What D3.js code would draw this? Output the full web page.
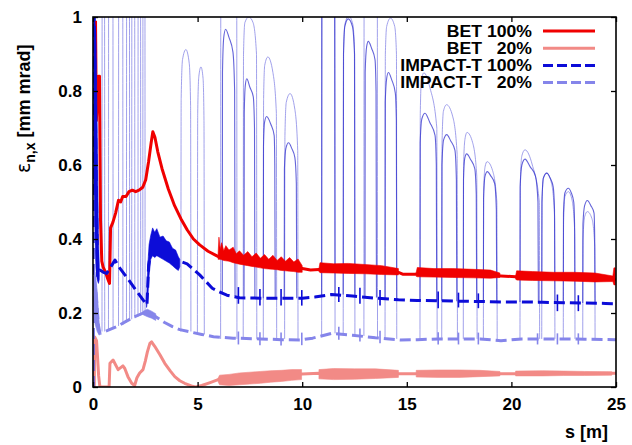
<!DOCTYPE html>
<html>
<head>
<meta charset="utf-8">
<script src="https://cdn.jsdelivr.net/npm/d3@7"></script>
<style>
  body { margin: 0; background: #fff; }
  text { font-family: "Liberation Sans", Arial, Helvetica, sans-serif; font-weight: bold; fill: #000; }
</style>
</head>
<body>
<svg id="chart" width="632" height="445"></svg>
<script>
// ---- axis ticks and legend text ----
const xTicks = [0, 5, 10, 15, 20, 25];
const yTicks = [0, 0.2, 0.4, 0.6, 0.8, 1];
const yTickLabels = ["0", "0.2", "0.4", "0.6", "0.8", "1"];
const legendNames = ["BET", "BET", "IMPACT-T", "IMPACT-T"];
const legendPcts = ["100%", "20%", "100%", "20%"];

// ---- BET, 100% of the bunch: smooth trace [s, eps] ----
const bet100Line = [
  [0.12,0.99],[0.16,0.72],[0.27,0.84],[0.31,0.84],[0.36,0.45],[0.42,0.34],[0.48,0.325],[0.60,0.31],
  [0.72,0.29],[0.79,0.28],[0.84,0.43],[0.95,0.445],[1.08,0.47],[1.22,0.505],[1.32,0.50],[1.42,0.515],
  [1.58,0.515],[1.72,0.528],[1.88,0.532],[2.04,0.528],[2.20,0.532],[2.38,0.54],[2.52,0.56],[2.66,0.61],
  [2.78,0.66],[2.86,0.69],[2.96,0.675],[3.10,0.635],[3.30,0.59],[3.60,0.535],[3.90,0.49],[4.20,0.455],
  [4.50,0.425],[4.80,0.40],[5.10,0.384],[5.50,0.367],[5.90,0.355],[6.00,0.352],[7.0,0.343],[8.0,0.335],
  [9.0,0.328],[10.0,0.32],[10.4,0.316],[11.0,0.318],[12.0,0.318],[13.0,0.315],[14.0,0.313],[14.6,0.31],
  [14.8,0.305],[15.4,0.305],[16,0.31],[17,0.308],[18,0.305],[19,0.302],[19.5,0.30],[20.2,0.298],
  [21,0.298],[22,0.296],[23,0.294],[24,0.291],[25,0.29]
];
// noisy stretches of the same trace: [s, low, high]
const bet100Noise = [
  [[5.98,0.345,0.36],[6.02,0.345,0.405],[6.08,0.345,0.372],[6.15,0.344,0.39],[6.25,0.342,0.368],[6.35,0.341,0.382],
   [6.5,0.34,0.37],[6.7,0.336,0.378],[6.85,0.334,0.36],[7.0,0.332,0.368],[7.2,0.33,0.356],[7.4,0.328,0.366],
   [7.6,0.326,0.352],[7.8,0.324,0.362],[8.0,0.322,0.348],[8.2,0.32,0.358],[8.4,0.319,0.345],[8.6,0.318,0.356],
   [8.8,0.317,0.342],[9.0,0.315,0.352],[9.2,0.314,0.34],[9.4,0.313,0.35],[9.6,0.312,0.338],[9.8,0.31,0.346],[10.0,0.31,0.328]],
  [[10.8,0.312,0.32],[10.85,0.309,0.336],[11.5,0.308,0.333],[12.2,0.307,0.334],[13.0,0.306,0.331],[13.8,0.304,0.328],[14.6,0.303,0.32]],
  [[15.45,0.299,0.31],[15.5,0.298,0.323],[16.3,0.297,0.32],[17.2,0.296,0.32],[18.2,0.295,0.318],[19.0,0.294,0.316],[19.45,0.296,0.308]],
  [[20.2,0.292,0.30],[20.25,0.289,0.314],[21.0,0.288,0.312],[22.0,0.287,0.31],[23.0,0.286,0.31],[24.0,0.284,0.308],[24.85,0.285,0.3],[24.9,0.276,0.322],[24.97,0.276,0.322]]
];

// ---- BET, 20% core ----
const bet20Line = [
  [0.06,0.0],[0.08,0.135],[0.17,0.125],[0.27,0.03],[0.33,0.0],[0.77,0.0],[0.81,0.064],[0.96,0.073],
  [1.2,0.047],[1.43,0.057],[1.52,0.05],[1.67,0.028],[1.85,0.01],[1.99,0.004],[2.1,0.025],[2.23,0.038],
  [2.39,0.047],[2.5,0.07],[2.6,0.095],[2.72,0.118],[2.8,0.122],[2.95,0.11],[3.2,0.087],[3.43,0.064],
  [3.7,0.043],[3.91,0.028],[4.15,0.017],[4.38,0.01],[4.7,0.003],[4.9,0.0],[5.2,0.004],[5.6,0.012],
  [5.98,0.02],[7,0.022],[8,0.025],[9,0.03],[10,0.035],[10.8,0.037],[12,0.036],[14.6,0.036],
  [15.4,0.036],[19.5,0.036],[20.2,0.036],[25,0.037]
];
const bet20Noise = [
  [[5.98,0.014,0.024],[6.05,0.006,0.032],[6.5,0.004,0.034],[7,0.006,0.038],[7.5,0.008,0.04],[8,0.01,0.042],
   [8.5,0.013,0.044],[9,0.015,0.045],[9.5,0.018,0.047],[9.97,0.02,0.047]],
  [[10.8,0.022,0.047],[11.5,0.02,0.05],[12.5,0.021,0.049],[13.5,0.023,0.049],[14.6,0.026,0.045]],
  [[15.45,0.027,0.045],[16.5,0.026,0.046],[17.5,0.026,0.046],[18.5,0.028,0.045],[19.45,0.03,0.042]],
  [[20.2,0.03,0.043],[21.5,0.03,0.044],[22.5,0.031,0.043],[23.5,0.031,0.042],[24.8,0.032,0.041]]
];

// ---- IMPACT-T, 100% of the bunch: baseline trace ----
const impact100Line = [
  [0.0,0.0],[0.01,1.05],[0.06,1.0],[0.12,0.72],[0.18,0.45],[0.22,0.30],[0.33,0.316],[0.5,0.31],
  [0.65,0.307],[0.8,0.32],[1.05,0.343],[1.3,0.32],[1.7,0.29],[2.1,0.258],[2.4,0.235],[2.58,0.222],
  [2.66,0.33],[2.8,0.385],[3.1,0.385],[3.5,0.37],[3.9,0.35],[4.15,0.34],[4.5,0.333],[5.1,0.303],
  [5.7,0.267],[6.0,0.258],[6.4,0.248],[7,0.241],[8,0.24],[9,0.24],[10,0.24],[10.6,0.243],
  [11.4,0.25],[12.4,0.246],[13.5,0.24],[14.6,0.236],[15.5,0.234],[16.5,0.233],[17.5,0.232],[18.5,0.231],
  [19.5,0.23],[20.5,0.23],[21.5,0.229],[22.5,0.228],[23.5,0.227],[24.5,0.226],[25,0.225]
];
const impact100Noise = [
  [[0.03,0.6,1.0],[0.08,0.45,1.0],[0.14,0.32,0.95],[0.2,0.29,0.7],[0.26,0.28,0.4],[0.3,0.29,0.33]],
  [[2.56,0.215,0.235],[2.62,0.24,0.33],[2.68,0.3,0.385],[2.76,0.345,0.41],[2.85,0.355,0.43],[2.95,0.35,0.418],
   [3.05,0.355,0.428],[3.2,0.35,0.405],[3.35,0.345,0.408],[3.5,0.34,0.395],[3.65,0.335,0.392],[3.8,0.328,0.375],
   [3.95,0.32,0.37],[4.08,0.315,0.352],[4.15,0.325,0.345]]
];
// excursions inside the lattice elements
const impact100Arches = [
  [[6.18,0.25],[6.19,0.85],[6.25,0.945],[6.34,0.967],[6.5,0.945],[6.69,0.905],[6.77,0.8],[6.79,0.245]],
  [[7.22,0.241],[7.23,0.74],[7.28,0.815],[7.35,0.833],[7.5,0.81],[7.66,0.785],[7.72,0.7],[7.74,0.24]],
  [[8.14,0.24],[8.15,0.65],[8.2,0.715],[8.3,0.731],[8.5,0.71],[8.66,0.68],[8.69,0.6],[8.71,0.24]],
  [[9.14,0.24],[9.15,0.59],[9.22,0.645],[9.35,0.66],[9.5,0.645],[9.65,0.62],[9.72,0.55],[9.74,0.24]],
  [[10.93,0.243],[10.94,1.1],[11.05,1.2],[11.2,1.22],[11.45,1.2],[11.55,1.1],[11.57,0.25]],
  [[11.96,0.25],[11.975,0.9],[12.04,0.975],[12.2,0.995],[12.4,0.975],[12.5,0.9],[12.52,0.247]],
  [[13.0,0.244],[13.01,0.85],[13.08,0.92],[13.16,0.934],[13.32,0.915],[13.48,0.885],[13.53,0.8],[13.55,0.242]],
  [[13.96,0.24],[13.97,0.77],[14.04,0.835],[14.12,0.85],[14.28,0.83],[14.45,0.795],[14.5,0.72],[14.52,0.238]],
  [[15.63,0.234],[15.64,0.66],[15.72,0.725],[15.87,0.74],[16.1,0.715],[16.35,0.68],[16.41,0.6],[16.43,0.233]],
  [[16.67,0.233],[16.68,0.6],[16.76,0.668],[16.91,0.682],[17.1,0.665],[17.3,0.64],[17.37,0.56],[17.39,0.232]],
  [[17.70,0.232],[17.71,0.56],[17.77,0.618],[17.86,0.63],[18.05,0.615],[18.25,0.59],[18.32,0.52],[18.34,0.231]],
  [[18.66,0.231],[18.67,0.51],[18.74,0.57],[18.85,0.582],[19.02,0.57],[19.2,0.55],[19.28,0.48],[19.30,0.23]],
  [[20.41,0.23],[20.42,0.54],[20.5,0.6],[20.65,0.616],[20.9,0.595],[21.15,0.57],[21.27,0.5],[21.29,0.229]],
  [[21.45,0.229],[21.46,0.5],[21.53,0.565],[21.69,0.578],[21.85,0.565],[22.0,0.54],[22.06,0.48],[22.08,0.228]],
  [[22.48,0.228],[22.49,0.47],[22.56,0.525],[22.72,0.537],[22.86,0.525],[22.98,0.5],[23.02,0.44],[23.04,0.227]],
  [[23.41,0.227],[23.42,0.44],[23.5,0.49],[23.63,0.504],[23.8,0.49],[23.95,0.47],[23.98,0.41],[24.0,0.226]]
];
// short kicks on the baseline after each element: [s, low, high]
const impact100Kicks = [
  [6.95,0.225,0.27],[7.98,0.22,0.265],[8.99,0.22,0.265],[9.98,0.22,0.262],[11.75,0.23,0.27],[12.76,0.225,0.268],
  [13.72,0.22,0.262],[16.5,0.213,0.258],[17.47,0.215,0.255],[18.42,0.213,0.253],[22.2,0.205,0.25],[23.2,0.205,0.248]
];

// ---- IMPACT-T, 20% core ----
const impact20Line = [
  [0,0],[0.01,0.3],[0.05,0.3],[0.15,0.25],[0.25,0.17],[0.33,0.145],[0.7,0.153],[1.2,0.165],[1.6,0.178],
  [2.0,0.19],[2.4,0.2],[2.6,0.2],[3.0,0.19],[3.4,0.175],[3.8,0.163],[4.15,0.155],[4.7,0.148],[5.2,0.142],
  [5.76,0.136],[6.7,0.132],[8,0.13],[9,0.128],[9.9,0.127],[10.5,0.132],[11.4,0.145],[12.4,0.14],[13.5,0.133],
  [14.7,0.127],[15.5,0.128],[16.5,0.13],[17.5,0.13],[18.5,0.13],[19.5,0.125],[20.5,0.13],[21.5,0.13],
  [22.5,0.13],[23.5,0.129],[25,0.128]
];
const impact20Noise = [
  [[0.02,0.2,0.3],[0.1,0.17,0.31],[0.2,0.15,0.26],[0.3,0.14,0.17]],
  [[2.4,0.195,0.205],[2.6,0.19,0.21],[2.8,0.186,0.205],[3.0,0.18,0.198]]
];
const impact20Arches = [
  [[0.43,0.15],[0.44,1.3],[0.55,1.3],[0.56,0.15]],
  [[0.74,0.155],[0.75,1.3],[0.95,1.3],[0.96,0.158]],
  [[1.22,0.165],[1.23,1.3],[1.42,1.3],[1.43,0.168]],
  [[1.6,0.175],[1.61,1.3],[1.74,1.3],[1.75,0.18]],
  [[1.85,0.183],[1.86,1.3],[1.99,1.3],[2.0,0.186]],
  [[2.15,0.19],[2.16,1.3],[2.27,1.3],[2.28,0.193]],
  [[2.38,0.196],[2.39,1.3],[2.48,1.3],[2.49,0.2]],
  [[4.20,0.15],[4.215,0.78],[4.28,0.885],[4.44,0.912],[4.6,0.875],[4.665,0.76],[4.68,0.15]],
  [[4.99,0.142],[5.005,0.74],[5.06,0.84],[5.16,0.865],[5.26,0.835],[5.305,0.72],[5.32,0.142]],
  [[6.1,0.13],[6.11,1.1],[6.2,1.2],[6.5,1.22],[6.8,1.2],[6.87,1.1],[6.88,0.13]],
  [[7.18,0.13],[7.195,0.9],[7.26,0.985],[7.45,1.0],[7.65,0.985],[7.815,0.9],[7.83,0.13]],
  [[8.14,0.13],[8.155,0.78],[8.21,0.87],[8.36,0.892],[8.6,0.85],[8.765,0.74],[8.78,0.13]],
  [[9.16,0.13],[9.175,0.68],[9.24,0.77],[9.42,0.793],[9.65,0.75],[9.785,0.64],[9.8,0.13]],
  [[10.93,0.135],[10.94,1.1],[11.05,1.25],[11.25,1.3],[11.45,1.25],[11.56,1.1],[11.57,0.145]],
  [[11.96,0.142],[11.975,0.9],[12.04,0.98],[12.22,1.003],[12.42,0.98],[12.505,0.9],[12.52,0.14]],
  [[12.95,0.138],[12.96,1.1],[13.05,1.2],[13.25,1.22],[13.5,1.2],[13.59,1.1],[13.6,0.135]],
  [[13.96,0.133],[13.975,0.9],[14.04,0.975],[14.22,0.997],[14.42,0.975],[14.505,0.9],[14.52,0.13]],
  [[15.63,0.128],[15.645,0.74],[15.7,0.83],[15.82,0.849],[16.1,0.81],[16.435,0.7],[16.45,0.128]],
  [[16.67,0.13],[16.685,0.66],[16.75,0.745],[16.9,0.763],[17.2,0.73],[17.405,0.63],[17.42,0.13]],
  [[17.70,0.13],[17.715,0.6],[17.78,0.67],[17.88,0.688],[18.15,0.66],[18.345,0.57],[18.36,0.13]],
  [[18.66,0.13],[18.675,0.53],[18.74,0.595],[18.84,0.609],[19.1,0.585],[19.305,0.5],[19.32,0.128]],
  [[20.41,0.13],[20.425,0.55],[20.5,0.625],[20.65,0.641],[21.0,0.6],[21.335,0.5],[21.35,0.13]],
  [[21.45,0.13],[21.465,0.5],[21.53,0.565],[21.69,0.578],[21.92,0.55],[22.065,0.46],[22.08,0.13]],
  [[22.48,0.13],[22.495,0.45],[22.56,0.515],[22.72,0.528],[22.9,0.505],[23.025,0.42],[23.04,0.13]],
  [[23.41,0.129],[23.425,0.4],[23.5,0.46],[23.63,0.474],[23.85,0.455],[23.985,0.38],[24.0,0.128]]
];
const impact20Kicks = [
  [6.95,0.115,0.15],[7.98,0.113,0.148],[8.99,0.112,0.147],[9.98,0.113,0.147],[11.75,0.128,0.163],[12.76,0.123,0.158],
  [13.72,0.118,0.152],[16.5,0.115,0.148],[17.47,0.115,0.147],[18.42,0.115,0.147],[21.25,0.115,0.145],[22.2,0.115,0.145],[23.2,0.115,0.145]
];

// ---- styles ----
const colors = { bet100: "#f00000", bet20: "#f28a86", imp100: "#0c0cd8", imp20: "#8585ea" };

// ---- drawing ----
const svg = d3.select("#chart");
const x = d3.scaleLinear().domain([0, 25]).range([93, 616]);
const y = d3.scaleLinear().domain([0, 1]).range([387, 17]);

svg.append("defs").append("clipPath").attr("id", "plotClip")
  .append("rect").attr("x", 93).attr("y", 17).attr("width", 523).attr("height", 370);

const plot = svg.append("g").attr("clip-path", "url(#plotClip)");

const line = d3.line().x(d => x(d[0])).y(d => y(d[1]));
const smooth = d3.line().x(d => x(d[0])).y(d => y(d[1])).curve(d3.curveMonotoneX);
const band = d3.area().x(d => x(d[0])).y0(d => y(d[1])).y1(d => y(d[2]));

// thin excursions first, so the thick traces sit on top
plot.selectAll(".arch20").data(impact20Arches).join("path")
  .attr("d", smooth).attr("fill", "none").attr("stroke", "#8a8ae6")
  .attr("stroke-width", 1).attr("stroke-opacity", 0.8);
plot.selectAll(".arch100").data(impact100Arches).join("path")
  .attr("d", smooth).attr("fill", "none").attr("stroke", "#3030cc")
  .attr("stroke-width", 1.1).attr("stroke-opacity", 0.75);

function trace(lineData, noise, color, dash, width) {
  plot.append("path").datum(lineData).attr("d", line)
    .attr("fill", "none").attr("stroke", color).attr("stroke-width", width)
    .attr("stroke-linejoin", "round").attr("stroke-dasharray", dash);
  plot.selectAll(null).data(noise).join("path").attr("d", band)
    .attr("fill", color).attr("stroke", color).attr("stroke-width", 0.6);
}
trace(bet100Line, bet100Noise, colors.bet100, null, 3);
trace(bet20Line, bet20Noise, colors.bet20, null, 3);
trace(impact100Line, impact100Noise, colors.imp100, "11,5", 3);
trace(impact20Line, impact20Noise, colors.imp20, "11,5", 3);

plot.selectAll(null).data(impact100Kicks).join("line")
  .attr("x1", d => x(d[0])).attr("x2", d => x(d[0]))
  .attr("y1", d => y(d[1])).attr("y2", d => y(d[2]))
  .attr("stroke", colors.imp100).attr("stroke-width", 1.6);
plot.selectAll(null).data(impact20Kicks).join("line")
  .attr("x1", d => x(d[0])).attr("x2", d => x(d[0]))
  .attr("y1", d => y(d[1])).attr("y2", d => y(d[2]))
  .attr("stroke", colors.imp20).attr("stroke-width", 1.6);

// ---- axes (inward ticks on all four sides) ----
function styleAxis(g) {
  g.select(".domain").remove();
  g.selectAll(".tick line").attr("stroke", "#000").attr("stroke-width", 1.3);
  g.selectAll(".tick text").style("font-size", "17px").style("font-weight", "bold")
    .style("font-family", '"Liberation Sans", Arial, sans-serif').attr("fill", "#000");
}
svg.append("g").attr("transform", "translate(0,387)")
  .call(d3.axisBottom(x).tickValues(xTicks).tickSize(-5).tickPadding(11).tickFormat(d3.format("d")))
  .call(styleAxis);
svg.append("g").attr("transform", "translate(0,17)")
  .call(d3.axisTop(x).tickValues(xTicks).tickSize(-5).tickFormat(""))
  .call(styleAxis);
svg.append("g").attr("transform", "translate(93,0)")
  .call(d3.axisLeft(y).tickValues(yTicks).tickSize(-5).tickPadding(11).tickFormat((d, i) => yTickLabels[i]))
  .call(styleAxis);
svg.append("g").attr("transform", "translate(616,0)")
  .call(d3.axisRight(y).tickValues(yTicks).tickSize(-5).tickFormat(""))
  .call(styleAxis);

svg.append("rect").attr("x", 93).attr("y", 17).attr("width", 523).attr("height", 370)
  .attr("fill", "none").attr("stroke", "#000").attr("stroke-width", 1.6);

// ---- axis titles ----
svg.append("text").attr("x", 608).attr("y", 438).attr("text-anchor", "end")
  .style("font-size", "18px").text("s [m]");

const yTitle = svg.append("text").attr("transform", "translate(30,173) rotate(-90)")
  .attr("text-anchor", "start").style("font-size", "18px");
yTitle.append("tspan").style("font-weight", "normal").style("font-family", '"DejaVu Sans", sans-serif')
  .style("font-size", "19px").text("ε");
yTitle.append("tspan").attr("dy", 5).style("font-size", "14px").text("n,x");
yTitle.append("tspan").attr("dy", -5).text(" [mm mrad]");

// ---- legend ----
const legendStyles = [
  { color: colors.bet100, dash: null },
  { color: colors.bet20, dash: null },
  { color: colors.imp100, dash: "10,4" },
  { color: colors.imp20, dash: "10,4" }
];
const legend = svg.append("g");
legendNames.forEach((name, i) => {
  const by = 36.5 + i * 17.2;
  legend.append("text").attr("transform", `translate(482,${by}) scale(1.1,1)`)
    .attr("text-anchor", "end").style("font-size", "16px").text(name);
  legend.append("text").attr("transform", `translate(532,${by}) scale(1.1,1)`)
    .attr("text-anchor", "end").style("font-size", "16px").text(legendPcts[i]);
  legend.append("line").attr("x1", 543).attr("x2", 595).attr("y1", by - 5.5).attr("y2", by - 5.5)
    .attr("stroke", legendStyles[i].color).attr("stroke-width", 3)
    .attr("stroke-dasharray", legendStyles[i].dash);
});
</script>
</body>
</html>
